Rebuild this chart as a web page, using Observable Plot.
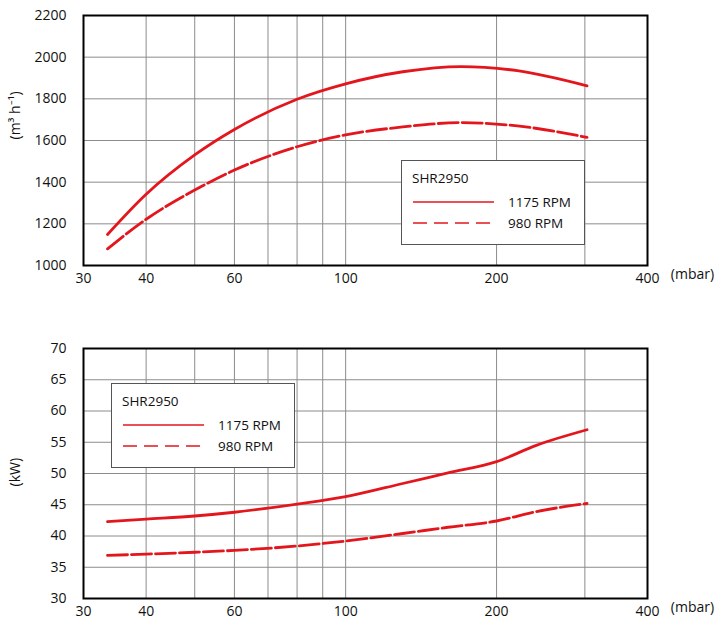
<!DOCTYPE html>
<html><head><meta charset="utf-8">
<script src="https://cdn.jsdelivr.net/npm/d3@7"></script>
<script src="https://cdn.jsdelivr.net/npm/@observablehq/plot@0.6"></script>
<style>
body{margin:0;background:#fff;font-family:"Open Sans",sans-serif;}
#wrap{position:relative;width:722px;height:624px;overflow:hidden;}
#wrap svg{display:block;}
.legend{position:absolute;background:#fff;border:1.5px solid #555;box-sizing:border-box;}
.legend svg{position:absolute;left:-1.5px;top:-1.5px;}
</style></head>
<body><div id="wrap"></div>
<script>
// ---- data ----
const pressureF = [33.5, 40, 50, 60, 80, 100, 130, 170, 220, 303];
const flow1175  = [1149, 1342, 1531, 1653, 1798, 1872, 1930, 1955, 1935, 1862];
const flow980   = [1080, 1222, 1362, 1458, 1570, 1627, 1665, 1686, 1670, 1615];
const pressureP = [33.5, 40, 50, 60, 80, 100, 130, 160, 200, 240, 303];
const power1175 = [42.3, 42.7, 43.2, 43.8, 45.1, 46.3, 48.4, 50.1, 51.9, 54.5, 57.0];
const power980  = [36.9, 37.1, 37.4, 37.7, 38.4, 39.2, 40.4, 41.4, 42.4, 43.9, 45.2];
const xTickLabels = [30, 40, 60, 80, 100, 200, 400];
const xGridLines = [40, 50, 60, 70, 80, 90, 100, 200, 300];
const flowTicks = [1000, 1200, 1400, 1600, 1800, 2000, 2200];
const powerTicks = [30, 35, 40, 45, 50, 55, 60, 65, 70];
const seriesNames = ["1175 RPM", "980 RPM"];
const modelName = "SHR2950";

const RED = "#e4161d";
const GRID = "#8c8c8c";

function rows(xs, a, b) {
  const out = [];
  xs.forEach((p, i) => { out.push({p, v: a[i], rpm: 1175}); });
  xs.forEach((p, i) => { out.push({p, v: b[i], rpm: 980}); });
  return out;
}

function panel({data, yDomain, yTicks, yLabel, height, marginTop, marginBottom, labelDy}) {
  return Plot.plot({
    width: 722, height, marginLeft: 83, marginRight: 75, marginTop, marginBottom,
    style: {fontFamily: "Open Sans", fontSize: "14px", color: "#111", background: "white"},
    x: {type: "log", domain: [30, 400]},
    y: {domain: yDomain},
    marks: [
      Plot.gridX(xGridLines, {stroke: GRID, strokeOpacity: 1, strokeWidth: 1}),
      Plot.gridY(yTicks, {stroke: GRID, strokeOpacity: 1, strokeWidth: 1}),
      Plot.axisX(xTickLabels, {tickSize: 0, tickPadding: 8, tickFormat: d => String(d), label: null, fontSize: 14}),
      Plot.axisY(yTicks, {tickSize: 0, tickPadding: 17, tickFormat: d => String(d), label: null, fontSize: 14}),
      Plot.frame({stroke: "black", strokeWidth: 2}),
      Plot.line(data, {filter: d => d.rpm === 1175, x: "p", y: "v", stroke: RED, strokeWidth: 2.8, curve: "monotone-x"}),
      Plot.line(data, {filter: d => d.rpm === 980, x: "p", y: "v", stroke: RED, strokeWidth: 2.8, strokeDasharray: "20,4", curve: "monotone-x"}),
      Plot.text(["(mbar)"], {frameAnchor: "bottom-right", dx: 45, dy: 13, textAnchor: "middle", fontSize: 14, fill: "#111"}),
      Plot.text([yLabel], {frameAnchor: "left", rotate: -90, dx: -68, dy: labelDy, fontSize: 14, fill: "#111"})
    ]
  });
}

function legend(left, top) {
  const div = document.createElement("div");
  div.className = "legend";
  Object.assign(div.style, {left: left + "px", top: top + "px", width: "184px", height: "85px"});
  div.innerHTML = `<svg width="184" height="85" style="font-family:'Open Sans';font-size:13.5px;fill:#111">
    <text x="11" y="23">${modelName}</text>
    <line x1="12" x2="93" y1="42" y2="42" stroke="${RED}" stroke-width="1.6"/>
    <line x1="12" x2="93" y1="63" y2="63" stroke="${RED}" stroke-width="1.6" stroke-dasharray="14,7"/>
    <text x="107" y="42" dy="0.35em">${seriesNames[0]}</text>
    <text x="107" y="63" dy="0.35em">${seriesNames[1]}</text>
  </svg>`;
  return div;
}

const wrap = document.getElementById("wrap");
wrap.appendChild(panel({
  data: rows(pressureF, flow1175, flow980), yDomain: [1000, 2200], yTicks: flowTicks,
  yLabel: "(m³ h⁻¹)", height: 300, marginTop: 15, marginBottom: 35, labelDy: -1
}));
wrap.appendChild(panel({
  data: rows(pressureP, power1175, power980), yDomain: [30, 70], yTicks: powerTicks,
  yLabel: "(kW)", height: 324, marginTop: 48, marginBottom: 26, labelDy: 13
}));
wrap.appendChild(legend(401, 160));
wrap.appendChild(legend(111, 383));
</script>
</body></html>
